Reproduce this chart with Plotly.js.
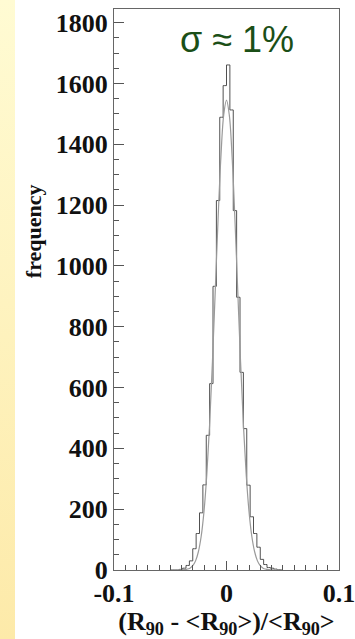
<!DOCTYPE html>
<html>
<head>
<meta charset="utf-8">
<script src="https://cdn.plot.ly/plotly-3.0.1.min.js"></script>
<style>
  html, body { margin: 0; padding: 0; background: #ffffff; }
  #strip { position: absolute; left: 0; top: 0; width: 15px; height: 639px;
           background: linear-gradient(to bottom, #fffbd3, #fdeaa9); }
  #chart { position: absolute; left: 0; top: 0; width: 355px; height: 639px; }
</style>
</head>
<body>
<div id="strip"></div>
<div id="chart"></div>
<script>
// Histogram of (R90 - <R90>)/<R90>, bin width 0.003
const binCenters = [-0.0495, -0.0465, -0.0435, -0.0405, -0.0375, -0.0345, -0.0315, -0.0285,
  -0.0255, -0.0225, -0.0195, -0.0165, -0.0135, -0.0105, -0.0075, -0.0045, -0.0015,
  0.0015, 0.0045, 0.0075, 0.0105, 0.0135, 0.0165, 0.0195, 0.0225, 0.0255, 0.0285,
  0.0315, 0.0345, 0.0375, 0.0405, 0.0435, 0.0465, 0.0495];
const counts = [0, 0, 0, 2, 6, 15, 30, 70,
  120, 188, 280, 443, 613, 933, 1215, 1489, 1593,
  1661, 1513, 1182, 897, 650, 465, 279, 175, 120, 75,
  35, 18, 8, 6, 3, 1, 0];

// Gaussian fit curve
const fitX = [-0.05, -0.045, -0.04, -0.035, -0.0325, -0.03, -0.0275, -0.025, -0.0225, -0.02,
  -0.0175, -0.015, -0.0125, -0.01, -0.0075, -0.005, -0.0025, 0, 0.0025, 0.005, 0.0075,
  0.01, 0.0125, 0.015, 0.0175, 0.02, 0.0225, 0.025, 0.0275, 0.03, 0.0325, 0.035, 0.04, 0.045, 0.05];
const fitY = [0, 0, 0.4, 3, 6, 14, 30, 60, 111, 193,
  314, 479, 685, 918, 1153, 1357, 1496, 1545, 1496, 1357, 1153,
  918, 685, 479, 314, 193, 111, 60, 30, 14, 6, 3, 0.4, 0, 0];

const yTicks = [0, 200, 400, 600, 800, 1000, 1200, 1400, 1600, 1800];
const xTicks = [-0.1, 0, 0.1];
const xTickText = ['-0.1', '0', '0.1'];

const serif = 'Liberation Serif, Times New Roman, serif';

const traces = [
  {
    x: binCenters, y: counts, type: 'scatter', mode: 'lines',
    line: { shape: 'hvh', color: '#505050', width: 1 },
    hoverinfo: 'skip', showlegend: false
  },
  {
    x: fitX, y: fitY, type: 'scatter', mode: 'lines',
    line: { shape: 'spline', color: '#9a9a9a', width: 1.2 },
    hoverinfo: 'skip', showlegend: false
  }
];

const layout = {
  width: 355, height: 639,
  margin: { l: 114, r: 16, t: 9, b: 69 },
  paper_bgcolor: 'rgba(0,0,0,0)',
  plot_bgcolor: '#ffffff',
  showlegend: false,
  xaxis: {
    range: [-0.1, 0.1],
    tickvals: xTicks, ticktext: xTickText,
    ticklabeloverflow: 'allow',
    ticks: 'inside', ticklen: 9, tickcolor: '#555', tickwidth: 1,
    minor: { dtick: 0.01, ticks: 'inside', ticklen: 5, tickcolor: '#555' },
    showgrid: false, zeroline: false,
    showline: true, linecolor: '#666', linewidth: 1, mirror: true,
    tickfont: { family: serif, size: 26, color: '#111', weight: 'bold' },
    title: {
      text: '(R<sub>90</sub> - &lt;R<sub>90</sub>&gt;)/&lt;R<sub>90</sub>&gt;',
      font: { family: serif, size: 26, color: '#111', weight: 'bold' },
      standoff: 0
    }
  },
  yaxis: {
    range: [0, 1845],
    tickvals: yTicks,
    ticklabeloverflow: 'allow',
    ticks: 'inside', ticklen: 10, tickcolor: '#555', tickwidth: 1,
    minor: { dtick: 50, ticks: 'inside', ticklen: 5, tickcolor: '#555' },
    showgrid: false, zeroline: false,
    showline: true, linecolor: '#666', linewidth: 1, mirror: true,
    tickfont: { family: serif, size: 26, color: '#111', weight: 'bold' }
  },
  annotations: [
    {
      text: 'frequency', textangle: -90,
      xref: 'paper', yref: 'paper', x: -0.36, y: 0.604,
      xanchor: 'center', yanchor: 'middle', showarrow: false,
      font: { family: serif, size: 22, color: '#111', weight: 'bold' }
    },
    {
      text: 'σ ≈ 1%',
      xref: 'paper', yref: 'paper', x: 0.545, y: 0.945,
      xanchor: 'center', yanchor: 'middle', showarrow: false,
      font: { family: 'Liberation Sans, Arial, sans-serif', size: 36, color: '#1b4f17' }
    }
  ]
};

Plotly.newPlot('chart', traces, layout, { displayModeBar: false, staticPlot: true });
</script>
</body>
</html>
